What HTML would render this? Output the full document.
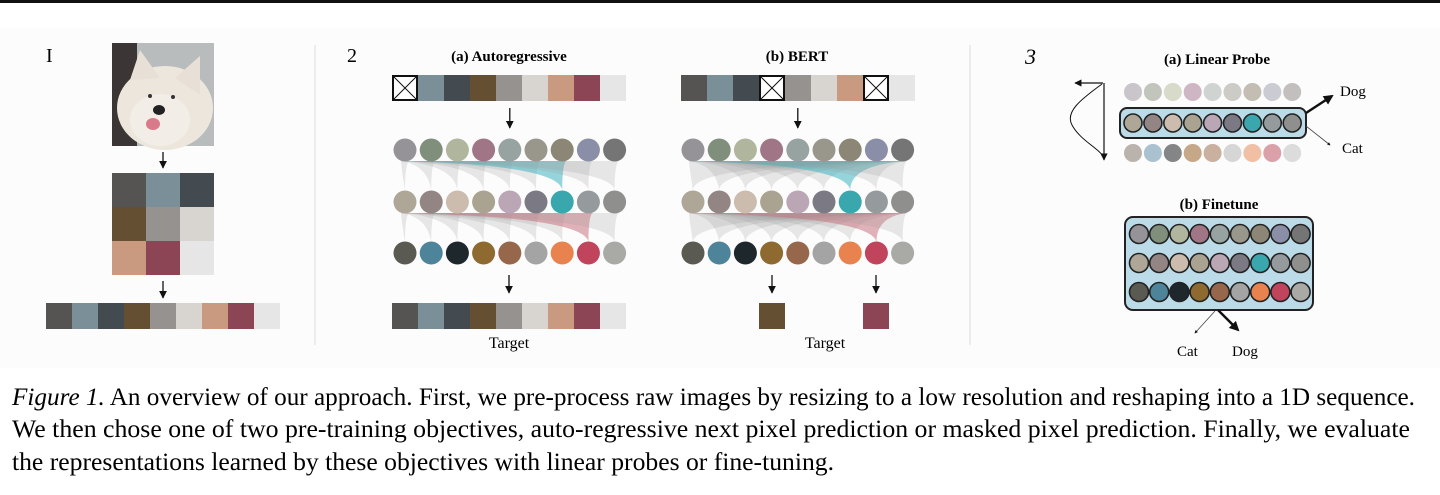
<!DOCTYPE html>
<html><head><meta charset="utf-8"><style>
html,body{margin:0;padding:0;background:#fff}
svg{display:block}
text{font-family:"Liberation Serif",serif}
</style></head><body>
<svg id="fig" width="1440" height="495" viewBox="0 0 1440 495" xmlns="http://www.w3.org/2000/svg">
<defs>
<marker id="ah" viewBox="0 0 10 10" refX="9" refY="5" markerWidth="6" markerHeight="6" orient="auto"><path d="M0,0L10,5L0,10z" fill="#111"/></marker>
<marker id="ahb" viewBox="0 0 10 10" refX="8" refY="5" markerWidth="4" markerHeight="4" orient="auto"><path d="M0,0L10,5L0,10z" fill="#111"/></marker>
</defs>
<rect x="0" y="0" width="1440" height="3" fill="#111"/>
<rect x="0" y="28" width="1440" height="340" fill="#fcfcfc"/>
<line x1="315" y1="45" x2="315" y2="345" stroke="#ddd"/>
<line x1="970" y1="45" x2="970" y2="345" stroke="#ddd"/>
<text x="46" y="62" font-size="20">I</text>
<text x="347" y="62" font-size="20">2</text>
<text x="1025" y="64" font-size="22" font-style="italic">3</text>
<g id="dog">
<rect x="112" y="43" width="102" height="103" fill="#b9bcbd"/>
<rect x="112" y="43" width="25" height="103" fill="#3c3535"/>
<ellipse cx="165" cy="108" rx="48" ry="42" fill="#ece6dc"/>
<polygon points="130,80 140,50 160,78" fill="#e8e0d6"/>
<polygon points="175,78 200,56 200,95" fill="#e8e0d6"/>
<ellipse cx="160" cy="120" rx="30" ry="26" fill="#f2ede6"/>
<circle cx="150" cy="96" r="2" fill="#333"/><circle cx="173" cy="97" r="2" fill="#333"/>
<ellipse cx="159" cy="110" rx="6" ry="5" fill="#222"/>
<ellipse cx="153" cy="124" rx="7" ry="6" fill="#d97a8a"/>
</g>
<line x1="163" y1="152" x2="163" y2="168" stroke="#111" stroke-width="1.3" marker-end="url(#ah)"/>
<g id="grid"></g>
<line x1="163" y1="281" x2="163" y2="298" stroke="#111" stroke-width="1.3" marker-end="url(#ah)"/>
<g id="seq1"></g>

<text x="509" y="61" font-size="15" font-weight="bold" text-anchor="middle">(a) Autoregressive</text>
<text x="797" y="61" font-size="15" font-weight="bold" text-anchor="middle">(b) BERT</text>
<g id="ar"></g>
<g id="bert"></g>
<text x="509" y="348" font-size="16" text-anchor="middle">Target</text>
<text x="825" y="348" font-size="16" text-anchor="middle">Target</text>

<text x="1217" y="64" font-size="15" font-weight="bold" text-anchor="middle">(a) Linear Probe</text>
<text x="1219" y="209" font-size="15" font-weight="bold" text-anchor="middle">(b) Finetune</text>
<g id="lp"></g>
<g id="ft"></g>
<path d="M1103,83 L1075,83" stroke="#111" stroke-width="1.2" marker-end="url(#ah)"/>
<path d="M1104,83 L1104,160" stroke="#111" stroke-width="1.2" marker-end="url(#ah)"/>
<path d="M1102,84 C1080,100 1065,112 1072,125 C1080,140 1098,148 1103,156" stroke="#111" fill="none" stroke-width="1"/>
<line x1="1306" y1="113" x2="1332" y2="96" stroke="#111" stroke-width="2.5" marker-end="url(#ahb)"/>
<line x1="1306" y1="126" x2="1330" y2="145" stroke="#444" stroke-width="0.8" marker-end="url(#ahb)"/>
<text x="1340" y="96" font-size="15">Dog</text>
<text x="1342" y="153" font-size="15">Cat</text>
<line x1="1218" y1="310" x2="1238" y2="330" stroke="#111" stroke-width="2.5" marker-end="url(#ahb)"/>
<line x1="1215" y1="311" x2="1195" y2="333" stroke="#444" stroke-width="0.8" marker-end="url(#ahb)"/>
<text x="1177" y="356" font-size="15">Cat</text>
<text x="1232" y="356" font-size="15">Dog</text>

<g>
<text x="12" y="405" font-size="25" textLength="1403" lengthAdjust="spacingAndGlyphs"><tspan font-style="italic">Figure 1.</tspan> An overview of our approach. First, we pre-process raw images by resizing to a low resolution and reshaping into a 1D sequence.</text>
<text x="12" y="437" font-size="25" textLength="1398" lengthAdjust="spacingAndGlyphs">We then chose one of two pre-training objectives, auto-regressive next pixel prediction or masked pixel prediction. Finally, we evaluate</text>
<text x="12" y="470" font-size="25" textLength="822" lengthAdjust="spacingAndGlyphs">the representations learned by these objectives with linear probes or fine-tuning.</text>
</g>
</svg>
<script>
const seqColors=["#555453","#7b8f99","#434a50","#654f33","#959290","#d8d5d1","#c99a80","#8b4555","#e6e6e6"];
const row1=["#959298","#7f8f7c","#b0b59e","#a07585","#97a3a0","#99978c","#8b8676","#8a8ea6","#767575"];
const row2=["#aea697","#928583","#cbbcae","#aaa392","#bba6b5","#7b7a84","#3aa6ad","#959a9c","#8f8f8e"];
const row3=["#5b5a52","#4d8499","#1d272c","#8e6a30","#97674b","#a4a4a4","#e8834f","#c0455c","#a9a9a6"];
const lpTop=["#c9c5cb","#c1c5bb","#d8dbc9","#ceb6c4","#cfd3d2","#cdcbc6","#c3bdb3","#cacbd3","#c3bfbf"];
const lpBot=["#bab3ad","#aac1cf","#848587","#c6a889","#c9b09f","#d6d6d6","#f1c0a4","#dba1ab","#dcdcdc"];
const NS="http://www.w3.org/2000/svg";
function mk(p,t,a){const e=document.createElementNS(NS,t);for(const k in a)e.setAttribute(k,a[k]);p.appendChild(e);return e;}
const g=document.getElementById('grid');
seqColors.forEach((c,i)=>{const r=mk(g,'rect',{x:112+(i%3)*34,y:173+Math.floor(i/3)*34,width:34,height:34,fill:c});

});
function seq(p,x0,y,w,masked){seqColors.forEach((c,i)=>{const x=x0+i*w;
 if(masked.includes(i)){const r=mk(p,'rect',{x:x+1,y:y+1,width:w-2,height:24,fill:'#fff',stroke:'#111','stroke-width':2});
  
  
  mk(p,'path',{d:`M${x+1},${y+1}L${x+w-1},${y+25}M${x+w-1},${y+1}L${x+1},${y+25}`,stroke:'#111','stroke-width':1});}
 else{const r=mk(p,'rect',{x:x,y:y,width:w,height:26,fill:c});
  
  }});}
seq(document.getElementById('seq1'),46,303,26,[]);
function circles(p,x0,dx,y,r,cols,stroke){cols.forEach((c,i)=>{const e=mk(p,'circle',{cx:x0+i*dx,cy:y,r:r,fill:c});
 if(stroke){e.setAttribute('stroke','#222');e.setAttribute('stroke-width','1.6');}
 
 });}
function fans(p,x0,dx,yt,yb,causal,hi,col){for(let i=0;i<9;i++){const xd=x0+i*dx;const js=causal?[0,i]:[0,8];
 const xa=x0+js[0]*dx,xb=x0+js[1]*dx;
 const fill=i===hi?col:'#9a9a9a',op=i===hi?0.55:0.22;
 mk(p,'path',{d:`M${xa-4},${yt} L${xb+4},${yt} Q${xd},${yt+4} ${xd},${yb} Q${xd-4},${yt+4} ${xa-4},${yt}Z`,fill:fill,'fill-opacity':op});}}
function arrow(p,x,y1,y2){mk(p,'line',{x1:x,y1:y1,x2:x,y2:y2,stroke:'#111','stroke-width':1.3,'marker-end':'url(#ah)'});}
function panel(id,sx,cx0,causal,masked){const p=document.getElementById(id);const dx=26.2;
 seq(p,sx,75,26,masked);arrow(p,cx0+4*dx,108,128);
 fans(p,cx0,dx,161,190,causal,6,'#3fb3bd');fans(p,cx0,dx,213,242,causal,7,'#c9727f');
 circles(p,cx0,dx,150,11.5,row1);circles(p,cx0,dx,202,11.5,row2);circles(p,cx0,dx,253,11.5,row3);}
panel('ar',392,405,true,[0]);
panel('bert',681,693,false,[3,7]);
const ap=document.getElementById('ar');seq(ap,392,303,26,[]);arrow(ap,509,275,293);
const bp=document.getElementById('bert');
arrow(bp,772,275,293);arrow(bp,876,275,293);
[[759,3],[863,7]].forEach(([x,i])=>{const r=mk(bp,'rect',{x:x,y:303,width:26,height:26,fill:seqColors[i]});
 
 });
const lp=document.getElementById('lp');
circles(lp,1133,19.9,92,9,lpTop);
const b1=mk(lp,'rect',{x:1120,y:108,width:186,height:30,rx:7,fill:'#bcdbe8',stroke:'#222','stroke-width':2});


circles(lp,1133,19.9,123,9,row2,true);
circles(lp,1133,19.9,153,9,lpBot);
const ft=document.getElementById('ft');
const b2=mk(ft,'rect',{x:1125,y:217,width:188,height:93,rx:8,fill:'#bcdbe8',stroke:'#222','stroke-width':2});


circles(ft,1139,20.2,234,9.5,row1,true);
circles(ft,1139,20.2,263,9.5,row2,true);
circles(ft,1139,20.2,292,9.5,row3,true);
</script>
</body></html>
